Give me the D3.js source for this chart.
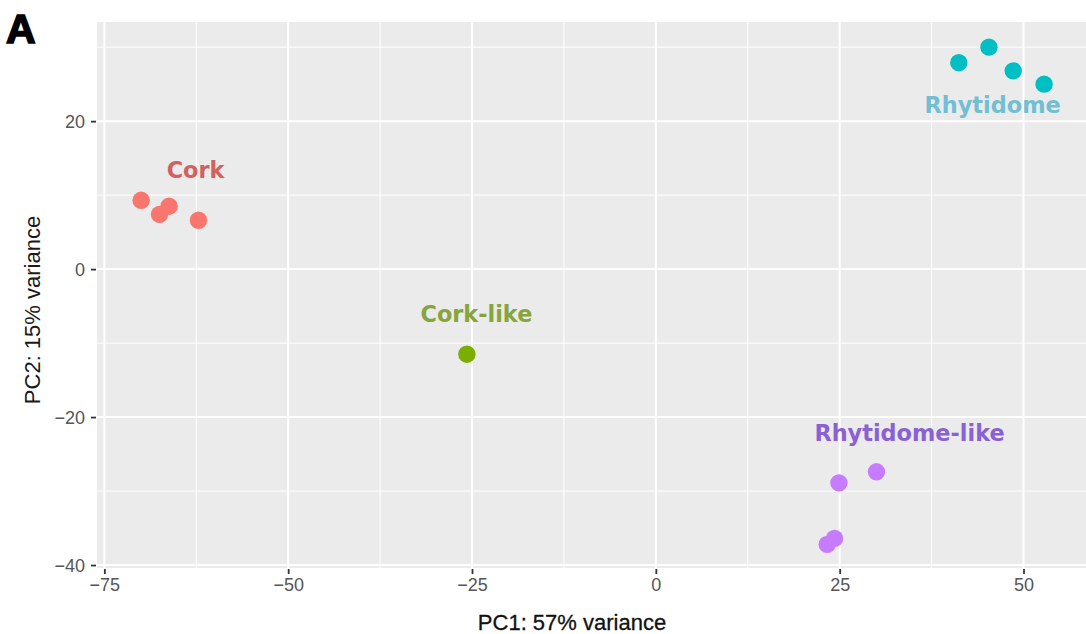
<!DOCTYPE html>
<html>
<head>
<meta charset="utf-8">
<script src="https://cdn.jsdelivr.net/npm/d3@7"></script>
<style>
  html, body { margin: 0; padding: 0; background: #ffffff; }
  svg { display: block; }
</style>
</head>
<body>
<svg id="chart" width="1086" height="634"></svg>
<script>
// PCA scores per sample group
const groups = ["Cork", "Cork-like", "Rhytidome", "Rhytidome-like"];
const groupColors = ["#F8766D", "#7CAE00", "#00BFC4", "#C77CFF"];
const labelColors = ["#D2605E", "#86A53A", "#70BFD4", "#8A60D6"];

const sampleGroup = ["Cork", "Cork", "Cork", "Cork",
                     "Cork-like",
                     "Rhytidome", "Rhytidome", "Rhytidome", "Rhytidome",
                     "Rhytidome-like", "Rhytidome-like", "Rhytidome-like", "Rhytidome-like"];
const pc1 = [-70.0, -67.5, -66.2, -62.2,
             -25.7,
             41.2, 45.3, 48.6, 52.8,
             24.9, 30.0, 24.3, 23.3];
const pc2 = [9.3, 7.4, 8.5, 6.6,
             -11.5,
             27.9, 30.0, 26.8, 25.0,
             -28.9, -27.4, -36.4, -37.2];

// group label anchor points (PC1, PC2)
const labelX = [-62.6, -24.4, 45.8, 34.5];
const labelY = [12.3, -7.2, 21.1, -23.3];

const xTicks = [-75, -50, -25, 0, 25, 50];
const yTicks = [-40, -20, 0, 20];
const xMinor = [-62.5, -37.5, -12.5, 12.5, 37.5];
const yMinor = [-30, -10, 10, 30];

const xTitle = "PC1: 57% variance";
const yTitle = "PC2: 15% variance";
const panelTag = "A";

const svg = d3.select("#chart");
const panel = { left: 97, right: 1086, top: 22, bottom: 568 };

const x = d3.scaleLinear().domain([-76, 58.5]).range([panel.left, panel.right]);
const y = d3.scaleLinear().domain([-40.4, 33.4]).range([panel.bottom, panel.top]);
const color = d3.scaleOrdinal().domain(groups).range(groupColors);
const labelColor = d3.scaleOrdinal().domain(groups).range(labelColors);

// panel background
svg.append("rect")
  .attr("x", panel.left).attr("y", panel.top)
  .attr("width", panel.right - panel.left)
  .attr("height", panel.bottom - panel.top)
  .attr("fill", "#EBEBEB");

const grid = svg.append("g");
grid.selectAll(".vminor").data(xMinor).join("line")
  .attr("x1", d => x(d)).attr("x2", d => x(d))
  .attr("y1", panel.top).attr("y2", panel.bottom)
  .attr("stroke", "#ffffff").attr("stroke-width", 1);
grid.selectAll(".hminor").data(yMinor).join("line")
  .attr("y1", d => y(d)).attr("y2", d => y(d))
  .attr("x1", panel.left).attr("x2", panel.right)
  .attr("stroke", "#ffffff").attr("stroke-width", 1);
grid.selectAll(".vmajor").data(xTicks).join("line")
  .attr("x1", d => x(d)).attr("x2", d => x(d))
  .attr("y1", panel.top).attr("y2", panel.bottom)
  .attr("stroke", "#ffffff").attr("stroke-width", 2);
grid.selectAll(".hmajor").data(yTicks).join("line")
  .attr("y1", d => y(d)).attr("y2", d => y(d))
  .attr("x1", panel.left).attr("x2", panel.right)
  .attr("stroke", "#ffffff").attr("stroke-width", 2);

const fmt = d => (d < 0 ? "\u2212" + Math.abs(d) : String(d));

// axes
const xAxis = svg.append("g")
  .attr("transform", `translate(0,${panel.bottom + 1})`)
  .call(d3.axisBottom(x).tickValues(xTicks).tickFormat(fmt).tickSize(5).tickPadding(4));
const yAxis = svg.append("g")
  .attr("transform", `translate(${panel.left - 1},0)`)
  .call(d3.axisLeft(y).tickValues(yTicks).tickFormat(fmt).tickSize(5).tickPadding(6));
[xAxis, yAxis].forEach(a => {
  a.select(".domain").remove();
  a.selectAll(".tick line").attr("stroke", "#333333").attr("stroke-width", 1.8);
  a.selectAll(".tick text")
    .attr("fill", "#555555")
    .style("font-family", "'Liberation Sans', Arial, sans-serif")
    .style("font-size", "18px");
});
yAxis.selectAll(".tick text").attr("dy", "0.36em");

// sample points
const samples = pc1.map((v, i) => ({ g: sampleGroup[i], pc1: v, pc2: pc2[i] }));
svg.append("g").selectAll("circle").data(samples).join("circle")
  .attr("cx", d => x(d.pc1))
  .attr("cy", d => y(d.pc2))
  .attr("r", 8.7)
  .attr("fill", d => color(d.g));

// group labels
svg.append("g").selectAll("text").data(groups).join("text")
  .attr("x", (d, i) => x(labelX[i]))
  .attr("y", (d, i) => y(labelY[i]))
  .attr("text-anchor", "middle")
  .attr("fill", d => labelColor(d))
  .style("font-family", "'DejaVu Sans', Verdana, sans-serif")
  .style("font-weight", "bold")
  .style("font-size", "22.4px")
  .text(d => d);

// axis titles
svg.append("text")
  .attr("x", 572).attr("y", 630)
  .attr("text-anchor", "middle")
  .attr("fill", "#111111")
  .attr("stroke", "#111111").attr("stroke-width", 0.3)
  .style("font-family", "'Liberation Sans', Arial, sans-serif")
  .style("font-size", "22px")
  .text(xTitle);
svg.append("text")
  .attr("transform", "translate(40,310) rotate(-90)")
  .attr("text-anchor", "middle")
  .attr("fill", "#1A1A1A")
  .style("font-family", "'Liberation Sans', Arial, sans-serif")
  .style("font-size", "22px")
  .text(yTitle);

// panel tag
svg.append("text")
  .attr("x", 6).attr("y", 43)
  .attr("fill", "#000000")
  .attr("stroke", "#000000").attr("stroke-width", 1.6)
  .style("font-family", "'Liberation Sans', Arial, sans-serif")
  .style("font-weight", "bold")
  .style("font-size", "41px")
  .text(panelTag);
</script>
</body>
</html>
